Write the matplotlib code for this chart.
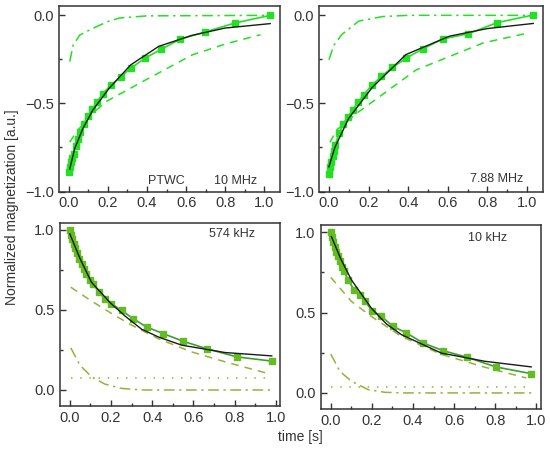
import matplotlib.pyplot as plt
from matplotlib.ticker import MultipleLocator

plt.rcParams['font.family'] = ['Liberation Sans', 'DejaVu Sans']

# --- panel a: PTWC 10 MHz ---
t_a = [0.0, 0.006, 0.013, 0.019, 0.025, 0.035, 0.047, 0.059, 0.076, 0.098, 0.12,
       0.145, 0.174, 0.216, 0.266, 0.317, 0.39, 0.474, 0.57, 0.696, 0.848, 1.03]
m_a = [-0.89, -0.86, -0.83, -0.81, -0.785, -0.74, -0.70, -0.66, -0.615, -0.573, -0.533,
       -0.491, -0.444, -0.396, -0.349, -0.30, -0.243, -0.192, -0.135, -0.095, -0.044, 0.0]
fit_a_t = [0.005, 0.03, 0.072, 0.123, 0.207, 0.317, 0.46, 0.629, 0.80, 1.03]
fit_a = [-0.872, -0.757, -0.643, -0.538, -0.413, -0.281, -0.176, -0.114, -0.072, -0.047]
slow_a_t = [0.005, 0.04, 0.115, 0.19, 0.376, 0.63, 0.80, 0.98]
slow_a = [-0.72, -0.66, -0.564, -0.49, -0.377, -0.225, -0.163, -0.11]
fast_a_t = [0.005, 0.022, 0.056, 0.123, 0.2, 0.26, 0.4, 1.03]
fast_a = [-0.263, -0.17, -0.112, -0.074, -0.035, -0.015, -0.003, 0.0]

# --- panel b: 7.88 MHz ---
t_b = [0.0, 0.006, 0.012, 0.019, 0.025, 0.031, 0.051, 0.073, 0.095, 0.119, 0.146,
       0.175, 0.218, 0.265, 0.32, 0.391, 0.476, 0.575, 0.702, 0.847, 1.031]
m_b = [-0.90, -0.86, -0.83, -0.80, -0.77, -0.738, -0.67, -0.614, -0.576, -0.538, -0.494,
       -0.452, -0.395, -0.347, -0.296, -0.242, -0.189, -0.134, -0.105, -0.042, 0.002]
fit_b_t = [0.0, 0.03, 0.099, 0.218, 0.388, 0.609, 0.8, 1.031]
fit_b = [-0.86, -0.75, -0.586, -0.41, -0.223, -0.118, -0.075, -0.046]
slow_b_t = [0.005, 0.04, 0.15, 0.44, 0.78, 1.01]
slow_b = [-0.72, -0.65, -0.548, -0.31, -0.156, -0.099]
fast_b_t = [0.0, 0.025, 0.065, 0.15, 0.27, 0.4, 1.03]
fast_b = [-0.252, -0.17, -0.109, -0.033, -0.007, 0.0, 0.0]

# --- panel c: 574 kHz ---
t_c = [0.0, 0.005, 0.011, 0.018, 0.024, 0.035, 0.045, 0.057, 0.069, 0.081, 0.097, 0.113,
       0.14, 0.17, 0.202, 0.251, 0.308, 0.373, 0.454, 0.551, 0.664, 0.81, 0.983]
m_c = [1.0, 0.97, 0.942, 0.915, 0.89, 0.855, 0.82, 0.786, 0.755, 0.724, 0.69, 0.662,
       0.615, 0.569, 0.538, 0.497, 0.445, 0.393, 0.352, 0.304, 0.258, 0.207, 0.18]
fit_c_t = [0.0, 0.05, 0.105, 0.2, 0.27, 0.348, 0.43, 0.543, 0.753, 0.98]
fit_c = [0.975, 0.82, 0.673, 0.54, 0.46, 0.38, 0.331, 0.28, 0.234, 0.213]
slow_c_t = [0.005, 0.1, 0.2, 0.3, 0.43, 0.591, 0.753, 0.956]
slow_c = [0.642, 0.56, 0.48, 0.405, 0.32, 0.238, 0.176, 0.105]
fast_c_t = [0.005, 0.049, 0.105, 0.17, 0.25, 0.35, 0.98]
fast_c = [0.263, 0.155, 0.083, 0.037, 0.01, 0.0, 0.0]
const_c_t = [0.005, 0.96]
const_c = [0.075, 0.075]

# --- panel d: 10 kHz ---
t_d = [0.0, 0.005, 0.011, 0.019, 0.027, 0.035, 0.044, 0.055, 0.065, 0.084, 0.113, 0.141,
       0.165, 0.202, 0.246, 0.303, 0.368, 0.449, 0.546, 0.663, 0.802, 0.975]
m_d = [1.0, 0.97, 0.942, 0.91, 0.88, 0.85, 0.818, 0.785, 0.756, 0.704, 0.642, 0.607,
       0.57, 0.512, 0.476, 0.414, 0.373, 0.311, 0.263, 0.222, 0.162, 0.12]
fit_d_t = [0.003, 0.05, 0.1, 0.197, 0.27, 0.343, 0.538, 0.749, 0.975]
fit_d = [0.973, 0.83, 0.704, 0.528, 0.43, 0.363, 0.248, 0.197, 0.162]
slow_d_t = [0.0, 0.1, 0.197, 0.343, 0.538, 0.749, 0.951]
slow_d = [0.719, 0.57, 0.476, 0.352, 0.24, 0.16, 0.093]
fast_d_t = [0.0, 0.044, 0.1, 0.181, 0.262, 0.35, 0.975]
fast_d = [0.242, 0.135, 0.073, 0.021, 0.004, 0.0, 0.0]
const_d_t = [0.0, 0.96]
const_d = [0.04, 0.04]

labels = ["10 MHz", "7.88 MHz", "574 kHz", "10 kHz"]

fig = plt.figure(figsize=(5.5, 4.55), dpi=100)
W, H = 550.0, 455.0

def px_axes(x0, y0, x1, y1):
    return fig.add_axes([x0 / W, 1 - y1 / H, (x1 - x0) / W, (y1 - y0) / H])

ax_a = px_axes(59, 6, 280, 191.5)
ax_b = px_axes(319, 6, 543, 191.5)
ax_c = px_axes(59.5, 222.7, 280, 406)
ax_d = px_axes(320.5, 225, 540.5, 409)

top_green = "#22e022"
sq_green = "#62bc22"
ln_green = "#3aa02e"
olive = "#94b23a"

def draw(ax, t, m, ft, f, st, s, dt, d, ct=None, c=None, top=True):
    if top:
        mc, lc, cc = top_green, top_green, top_green
    else:
        mc, lc, cc = sq_green, ln_green, olive
    ax.plot(st, s, color=cc, lw=1.1, ls=(0, (5, 4)))
    ax.plot(dt, d, color=cc, lw=1.1, ls=(0, (7, 3, 1.5, 3)))
    if ct is not None:
        ax.plot(ct, c, color=cc, lw=1.1, ls=(0, (1, 5)))
    ax.plot(t, m, color=lc, lw=1.2, marker="s", ms=5.0, mfc=mc, mec=mc)
    ax.plot(ft, f, color="#1a1a1a", lw=1.0)

draw(ax_a, t_a, m_a, fit_a_t, fit_a, slow_a_t, slow_a, fast_a_t, fast_a)
draw(ax_b, t_b, m_b, fit_b_t, fit_b, slow_b_t, slow_b, fast_b_t, fast_b)
draw(ax_c, t_c, m_c, fit_c_t, fit_c, slow_c_t, slow_c, fast_c_t, fast_c,
     const_c_t, const_c, top=False)
draw(ax_d, t_d, m_d, fit_d_t, fit_d, slow_d_t, slow_d, fast_d_t, fast_d,
     const_d_t, const_d, top=False)

for ax in (ax_a, ax_b):
    ax.set_xlim(-0.05, 1.08)
    ax.set_ylim(-1.0, 0.053)
for ax in (ax_c, ax_d):
    ax.set_xlim(-0.05, 1.02)
    ax.set_ylim(-0.1, 1.045)

for ax in (ax_a, ax_b, ax_c, ax_d):
    ax.xaxis.set_major_locator(MultipleLocator(0.2))
    ax.xaxis.set_minor_locator(MultipleLocator(0.1))
    ax.yaxis.set_major_locator(MultipleLocator(0.5))
    ax.yaxis.set_minor_locator(MultipleLocator(0.25))
    ax.tick_params(which="both", direction="in", labelsize=10.5, labelcolor="#333333",
                   color="#333333", width=1.0)
    ax.tick_params(which="major", length=4)
    ax.tick_params(which="minor", length=2)
    for sp in ax.spines.values():
        sp.set_color("#333333")
        sp.set_linewidth(1.1)

def ftext(x, y, s, **kw):
    fig.text(x / W, 1 - y / H, s, ha="center", va="center", color="#333333", **kw)

ftext(166, 181, "PTWC", fontsize=9)
ftext(236, 181, labels[0], fontsize=9)
ftext(497, 179, labels[1], fontsize=9)
ftext(232, 234, labels[2], fontsize=9)
ftext(488, 238, labels[3], fontsize=9)

ftext(12, 207, "Normalized magnetization [a.u.]", fontsize=10, rotation=90)
ftext(300, 437, "time [s]", fontsize=10)

fig.savefig("out.png", dpi=100)
